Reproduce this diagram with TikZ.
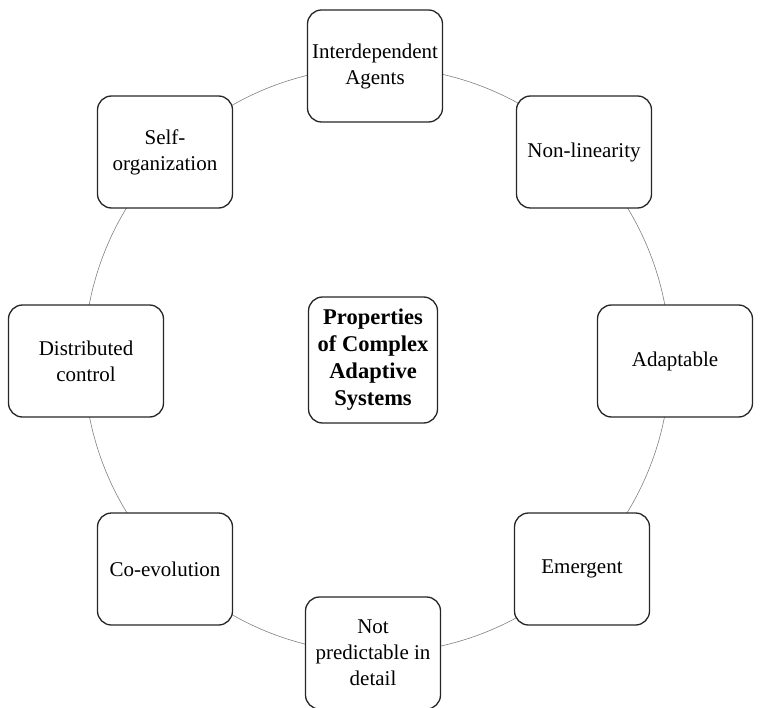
\documentclass[tikz,border=0pt]{standalone}
\usepackage{fontspec}
\setmainfont{Liberation Serif}
\begin{document}
\begin{tikzpicture}[x=1pt,y=-1pt,
  box/.style={draw=black!85, line width=1.3pt, rounded corners=14pt, fill=white,
    align=center, font=\fontsize{21}{26}\selectfont, minimum width=135pt,
    minimum height=112pt, inner sep=0pt},
  widebox/.style={box, minimum width=155pt},
  hubbox/.style={box, font=\fontsize{22.5}{27}\selectfont\bfseries, minimum width=129pt, minimum height=126pt},
  ring/.style={draw=black!50, line width=0.6pt}]
\useasboundingbox (0,0) rectangle (762,708);
\coordinate (c) at (377,360);
\draw[ring] (c) circle[radius=293pt];
\node[box] (ia) at (375,66) {Interdependent\\Agents};
\node[box] (nl) at (584,152) {Non-linearity};
\node[widebox] (ad) at (675,361) {Adaptable};
\node[box] (em) at (582,569) {Emergent};
\node[box] (np) at (373,653) {Not\\predictable in\\detail};
\node[box] (ce) at (165,569) {Co-evolution};
\node[widebox] (dc) at (86,361) {Distributed\\control};
\node[box] (so) at (165,152) {Self-\\organization};
\node[hubbox] (hub) at (373,360) {Properties\\of Complex\\Adaptive\\Systems};
\end{tikzpicture}
\end{document}
